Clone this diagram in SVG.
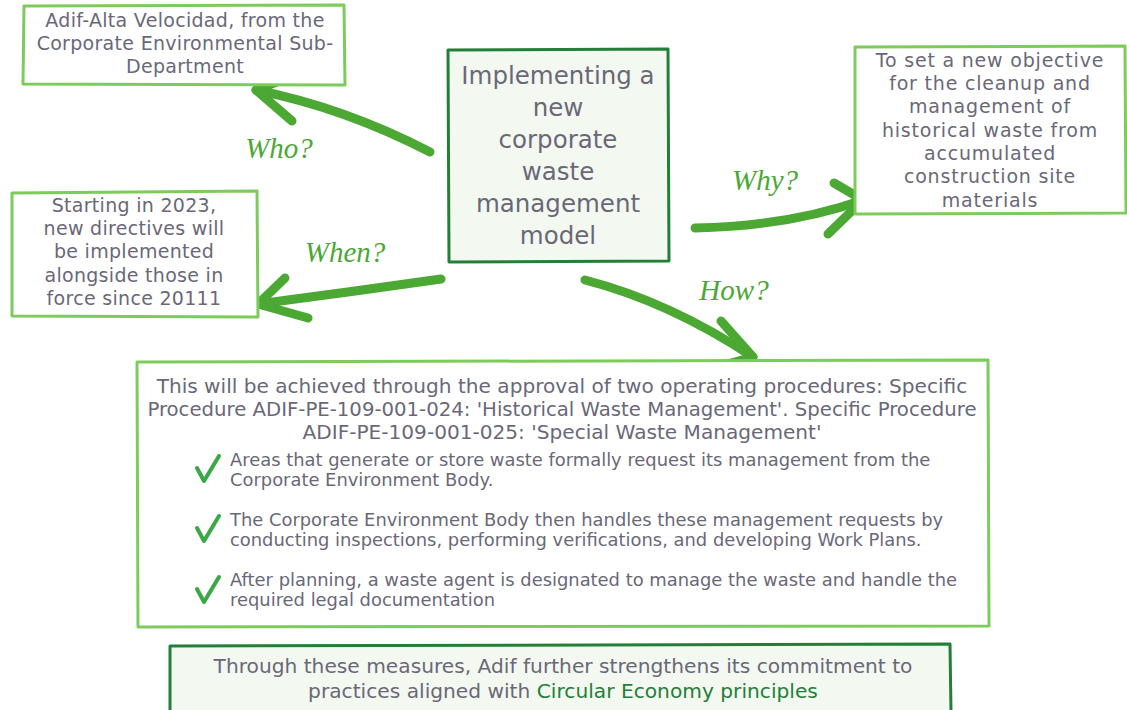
<svg xmlns="http://www.w3.org/2000/svg" width="1127" height="710" viewBox="0 0 1127 710">
  <defs>
    <style>
      .box-light { fill: #ffffff; stroke: #7ccb5b; stroke-width: 3; stroke-linejoin: round; }
      .box-dark { fill: #f3f9f1; stroke: #237f37; stroke-width: 3; stroke-linejoin: round; }
      .txt { font-family: "DejaVu Sans", "Liberation Sans", sans-serif; fill: #6a6878; }
      .mid { text-anchor: middle; }
      .label { font-family: "Liberation Serif", "DejaVu Serif", serif; font-style: italic; font-size: 29px; fill: #4ba836; text-anchor: middle; }
      .arrow { fill: none; stroke: #4ba832; stroke-width: 9; stroke-linecap: round; stroke-linejoin: round; }
      .check { fill: none; stroke: #3aa845; stroke-width: 4; stroke-linecap: round; stroke-linejoin: round; }
      .hl { fill: #237f37; }
    </style>
  </defs>

  <rect width="1127" height="710" fill="#ffffff"/>

  <!-- connectors -->
  <g id="connectors">
    <g id="arrow-who">
      <path class="arrow" d="M430,152 Q345,108 256,90"/>
      <path class="arrow" d="M292,76 L256,90 L292,121"/>
    </g>
    <g id="arrow-why">
      <path class="arrow" d="M695,228 Q790,226 863,200"/>
      <path class="arrow" d="M834,183 L863,200 L828,234"/>
    </g>
    <g id="arrow-when">
      <path class="arrow" d="M441,279 Q350,292 258,304"/>
      <path class="arrow" d="M285,278 L258,304 L308,318"/>
    </g>
    <g id="arrow-how">
      <path class="arrow" d="M585,280 Q670,302 753,357"/>
      <path class="arrow" d="M721,321 L753,357 L720,366"/>
    </g>
    <text class="label" x="279" y="158">Who?</text>
    <text class="label" x="765" y="190">Why?</text>
    <text class="label" x="345" y="262">When?</text>
    <text class="label" x="734" y="300">How?</text>
  </g>

  <!-- who -->
  <g id="node-who">
    <path class="box-light" d="M24,6 L344,5 L345,85 L23,84 Z"/>
    <text class="txt mid" font-size="19" letter-spacing="0.3" x="185" y="27">Adif-Alta Velocidad, from the</text>
    <text class="txt mid" font-size="19" letter-spacing="0.3" x="185" y="50">Corporate Environmental Sub-</text>
    <text class="txt mid" font-size="19" letter-spacing="0.3" x="185" y="73">Department</text>
  </g>

  <!-- central topic -->
  <g id="node-center">
    <path class="box-dark" d="M448,50 L668,49 L669,261 L449,262 Z"/>
    <text class="txt mid" font-size="24.5" x="558" y="84">Implementing a</text>
    <text class="txt mid" font-size="24.5" x="558" y="116">new</text>
    <text class="txt mid" font-size="24.5" x="558" y="148">corporate</text>
    <text class="txt mid" font-size="24.5" x="558" y="180">waste</text>
    <text class="txt mid" font-size="24.5" x="558" y="212">management</text>
    <text class="txt mid" font-size="24.5" x="558" y="244">model</text>
  </g>

  <!-- why -->
  <g id="node-why">
    <path class="box-light" d="M855,47 L1125,46 L1126,213 L855,214 Z"/>
    <text class="txt mid" font-size="19" letter-spacing="0.8" x="990" y="67">To set a new objective</text>
    <text class="txt mid" font-size="19" letter-spacing="0.8" x="990" y="90">for the cleanup and</text>
    <text class="txt mid" font-size="19" letter-spacing="0.8" x="990" y="113">management of</text>
    <text class="txt mid" font-size="19" letter-spacing="0.8" x="990" y="137">historical waste from</text>
    <text class="txt mid" font-size="19" letter-spacing="0.8" x="990" y="160">accumulated</text>
    <text class="txt mid" font-size="19" letter-spacing="0.8" x="990" y="183">construction site</text>
    <text class="txt mid" font-size="19" letter-spacing="0.8" x="990" y="207">materials</text>
  </g>

  <!-- when -->
  <g id="node-when">
    <path class="box-light" d="M12,193 L257,191 L258,317 L12,316 Z"/>
    <text class="txt mid" font-size="19" letter-spacing="0.3" x="134" y="212">Starting in 2023,</text>
    <text class="txt mid" font-size="19" letter-spacing="0.3" x="134" y="235">new directives will</text>
    <text class="txt mid" font-size="19" letter-spacing="0.3" x="134" y="258">be implemented</text>
    <text class="txt mid" font-size="19" letter-spacing="0.3" x="134" y="282">alongside those in</text>
    <text class="txt mid" font-size="19" letter-spacing="0.3" x="134" y="305">force since 20111</text>
  </g>

  <!-- how -->
  <g id="node-how">
    <path class="box-light" d="M137,362 L988,360 L989,626 L138,627 Z"/>
    <text class="txt mid" font-size="20.1" x="562" y="393">This will be achieved through the approval of two operating procedures: Specific</text>
    <text class="txt mid" font-size="19.7" x="562" y="416">Procedure ADIF-PE-109-001-024: 'Historical Waste Management'. Specific Procedure</text>
    <text class="txt mid" font-size="20.1" x="562" y="439">ADIF-PE-109-001-025: 'Special Waste Management'</text>

    <path class="check" d="M197,468 L204,481 L219,456"/>
    <text class="txt" font-size="17.9" x="230" y="466">Areas that generate or store waste formally request its management from the</text>
    <text class="txt" font-size="17.9" x="230" y="486">Corporate Environment Body.</text>

    <path class="check" d="M197,528 L204,541 L219,516"/>
    <text class="txt" font-size="17.9" x="230" y="526">The Corporate Environment Body then handles these management requests by</text>
    <text class="txt" font-size="17.9" x="230" y="546">conducting inspections, performing verifications, and developing Work Plans.</text>

    <path class="check" d="M197,589 L204,602 L219,577"/>
    <text class="txt" font-size="17.9" x="230" y="586">After planning, a waste agent is designated to manage the waste and handle the</text>
    <text class="txt" font-size="17.9" x="230" y="606">required legal documentation</text>
  </g>

  <!-- closing statement -->
  <g id="node-summary">
    <path class="box-dark" d="M170,646 L950,644 L951,712 L170,712 Z"/>
    <text class="txt mid" font-size="20.2" x="563" y="673">Through these measures, Adif further strengthens its commitment to</text>
    <text class="txt mid" font-size="20.2" x="563" y="698">practices aligned with <tspan class="hl">Circular Economy principles</tspan></text>
  </g>
</svg>
